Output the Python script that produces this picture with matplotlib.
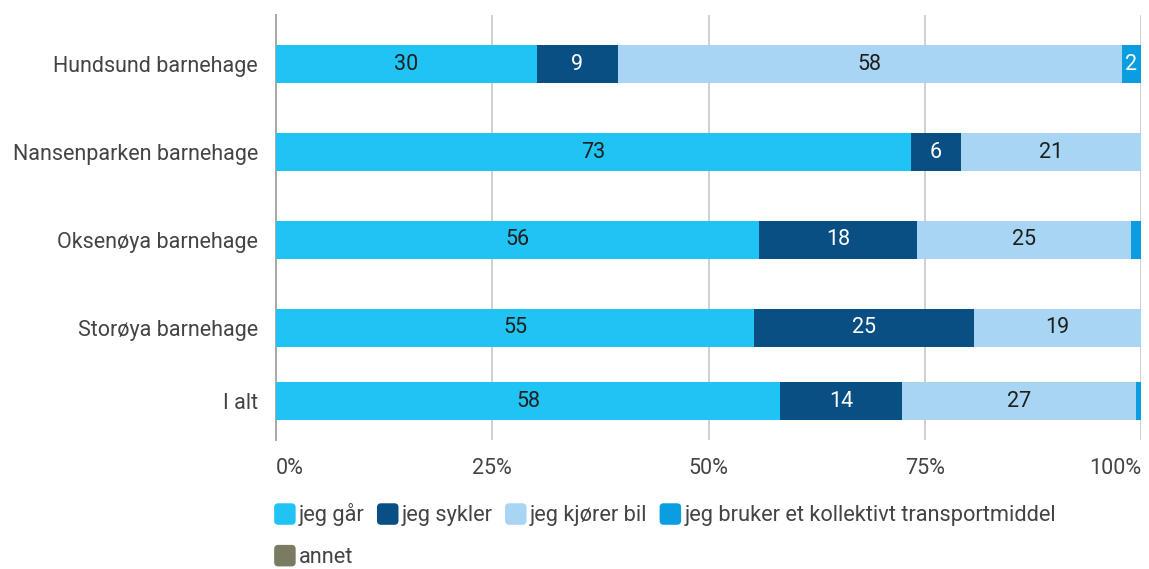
import matplotlib
matplotlib.use("Agg")
import matplotlib.pyplot as plt
from matplotlib.patches import FancyBboxPatch, Patch
from matplotlib.legend_handler import HandlerPatch
import numpy as np

plt.rcParams['font.family'] = ['Roboto', 'DejaVu Sans']

categories = ["Hundsund barnehage", "Nansenparken barnehage", "Oksenøya barnehage",
              "Storøya barnehage", "I alt"]
series = ["jeg går", "jeg sykler", "jeg kjører bil",
          "jeg bruker et kollektivt transportmiddel", "annet"]
gaar = [30.2, 73.4, 55.8, 55.3, 58.3]
sykler = [9.3, 5.8, 18.3, 25.4, 14.1]
bil = [58.3, 20.8, 24.7, 19.3, 27.0]
kollektivt = [2.2, 0.0, 1.2, 0.0, 0.6]
annet = [0.0, 0.0, 0.0, 0.0, 0.0]
xticks = [0, 25, 50, 75, 100]

colors = ["#20c4f4", "#0a4f83", "#a9d5f5", "#0a9de0", "#7b7b63"]
text_colors = ["#1e1e1e", "white", "#1e1e1e", "white", "white"]
ypos = [4, 3, 2, 1, 0.17]   # "I alt" sits a little closer to the bar above
INK = "#444444"
FS = 15.5


def rounded_square(legend, orig_handle, xdescent, ydescent, width, height, fontsize):
    s = 15.5  # points
    return FancyBboxPatch((-xdescent + (width - s) / 2, -ydescent + (height - s) / 2),
                          s, s, boxstyle="round,pad=0,rounding_size=3")


fig = plt.figure(figsize=(11.49, 5.69), dpi=100, facecolor="white")
ax = fig.add_axes([276 / 1149, 129 / 569, 865 / 1149, 425 / 569])

left = np.zeros(len(categories))
for vals, col, tc in zip([gaar, sykler, bil, kollektivt, annet], colors, text_colors):
    vals = np.array(vals)
    ax.barh(ypos, vals, left=left, height=0.43, color=col, zorder=3)
    for y, l, v in zip(ypos, left, vals):
        if v >= 2:
            ax.text(l + v / 2, y, f"{v:.0f}", ha="center", va="center",
                    fontsize=FS, color=tc, zorder=4)
    left += vals

ax.set_xlim(0, 100)
ax.set_ylim(-0.273, 4.557)
ax.set_yticks(ypos)
ax.set_yticklabels(categories, fontsize=FS, color=INK)
ax.set_xticks(xticks)
xl = ax.set_xticklabels([f"{t}%" for t in xticks], fontsize=FS, color=INK)
xl[0].set_ha("left")
xl[-1].set_ha("right")
ax.tick_params(axis="both", length=0)
ax.tick_params(axis="x", pad=13)
ax.tick_params(axis="y", pad=13)
for t in xticks[1:]:
    ax.axvline(t, color="#c8c8c8", lw=1.2, zorder=1)
for sp in ("top", "right", "bottom"):
    ax.spines[sp].set_visible(False)
ax.spines["left"].set_color("#a8a8a8")
ax.spines["left"].set_linewidth(1.4)

handles = [Patch(facecolor=c, edgecolor="none") for c in colors]
hmap = {Patch: HandlerPatch(patch_func=rounded_square)}
kw = dict(loc="center left", frameon=False, fontsize=15.7, handlelength=1.0,
          handleheight=1.0, handletextpad=0.15, columnspacing=0.55, borderpad=0,
          borderaxespad=0, labelcolor=INK, handler_map=hmap)
fig.legend(handles[:4], series[:4], bbox_to_anchor=(274 / 1149, 54 / 569), ncol=4, **kw)
fig.legend(handles[4:], series[4:], bbox_to_anchor=(274 / 1149, 12 / 569), **kw)

fig.savefig("out.png", dpi=100, facecolor="white")
